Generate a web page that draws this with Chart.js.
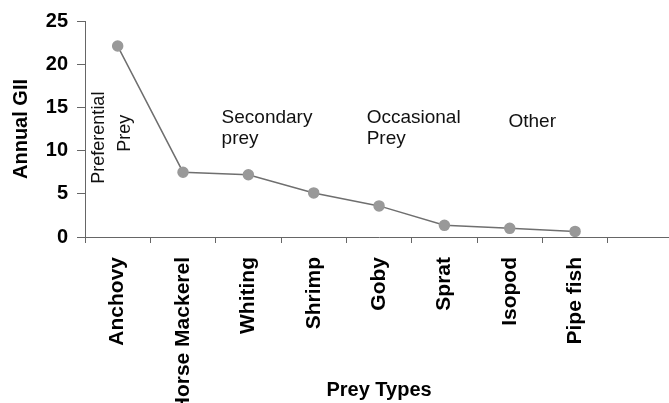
<!DOCTYPE html>
<html>
<head>
<meta charset="utf-8">
<script src="https://cdn.jsdelivr.net/npm/chart.js@4/dist/chart.umd.min.js"></script>
<style>
    body { margin: 0; background: #fff; overflow: hidden; }
    canvas { display: block; }
</style>
</head>
<body>
<canvas id="preyChart" width="680" height="403"></canvas>
<script>
// Prey types (last slot is the empty category at the end of the axis)
const preyTypes = ['Anchovy', 'Horse Mackerel', 'Whiting', 'Shrimp', 'Goby', 'Sprat', 'Isopod', 'Pipe fish', ''];
const annualGII = [22.1, 7.5, 7.2, 5.1, 3.6, 1.35, 1.0, 0.65, null];
const yTicks = [0, 5, 10, 15, 20, 25];

const FONT = "'Liberation Sans', Arial, sans-serif";
const AXIS_COLOR = '#666666';

// Group labels, anchored to category index / GII value
const notes = [
    { lines: ['Preferential'], x: -0.28, y: 11.5, rotate: true },
    { lines: ['Prey'], x: 0.11, y: 12.0, rotate: true },
    { lines: ['Secondary', 'prey'], x: 1.59, y: 13.2 },
    { lines: ['Occasional', 'Prey'], x: 3.81, y: 13.2 },
    { lines: ['Other'], x: 5.98, y: 12.75 }
];

const notesPlugin = {
    id: 'groupNotes',
    afterDatasetsDraw(chart) {
        const ctx = chart.ctx;
        const xs = chart.scales.x;
        const ys = chart.scales.y;
        const step = xs.getPixelForValue(1) - xs.getPixelForValue(0);
        ctx.save();
        ctx.fillStyle = '#111';
        ctx.font = '19px ' + FONT;
        notes.forEach(n => {
            const px = xs.getPixelForValue(0) + n.x * step;
            const py = ys.getPixelForValue(n.y);
            if (n.rotate) {
                ctx.save();
                ctx.translate(px, py);
                ctx.rotate(-Math.PI / 2);
                ctx.textAlign = 'center';
                ctx.textBaseline = 'middle';
                ctx.font = '18px ' + FONT;
                ctx.fillText(n.lines[0], 0, 0);
                ctx.restore();
            } else {
                ctx.textAlign = 'left';
                ctx.textBaseline = 'alphabetic';
                n.lines.forEach((line, i) => ctx.fillText(line, px, py + i * 21));
            }
        });
        ctx.restore();
    }
};

const ctx = document.getElementById('preyChart').getContext('2d');
new Chart(ctx, {
    type: 'line',
    data: {
        labels: preyTypes,
        datasets: [{
            data: annualGII,
            borderColor: '#6f6f6f',
            borderWidth: 1.5,
            backgroundColor: '#999999',
            pointBackgroundColor: '#999999',
            pointBorderColor: '#999999',
            pointRadius: 5,
            tension: 0,
            fill: false
        }]
    },
    options: {
        responsive: false,
        animation: false,
        devicePixelRatio: 1,
        layout: { padding: { top: 8, right: 2, left: 0, bottom: 0 } },
        plugins: {
            legend: { display: false },
            tooltip: { enabled: false }
        },
        scales: {
            x: {
                offset: true,
                grid: {
                    offset: true,
                    drawOnChartArea: false,
                    drawTicks: true,
                    tickLength: 6,
                    color: AXIS_COLOR
                },
                border: { display: true, color: AXIS_COLOR, width: 1 },
                ticks: {
                    autoSkip: false,
                    maxRotation: 90,
                    minRotation: 90,
                    padding: 14,
                    color: '#000',
                    font: { family: FONT, size: 21, weight: 'bold' }
                },
                title: {
                    display: true,
                    text: 'Prey Types',
                    color: '#000',
                    font: { family: FONT, size: 20, weight: 'bold' },
                    padding: { top: 0, bottom: 1 }
                },
                afterFit(scale) { scale.height = 166; }
            },
            y: {
                min: 0,
                max: 25,
                afterBuildTicks(scale) { scale.ticks = yTicks.map(v => ({ value: v })); },
                grid: {
                    drawOnChartArea: false,
                    drawTicks: true,
                    tickLength: 8,
                    color: AXIS_COLOR
                },
                border: { display: true, color: AXIS_COLOR, width: 1 },
                ticks: {
                    padding: 9,
                    color: '#000',
                    font: { family: FONT, size: 20, weight: 'bold' }
                },
                title: {
                    display: true,
                    text: 'Annual GII',
                    color: '#000',
                    font: { family: FONT, size: 20, weight: 'bold' },
                    padding: { top: 9, bottom: 0 }
                },
                afterFit(scale) { scale.width = 85; }
            }
        }
    },
    plugins: [notesPlugin]
});
</script>
</body>
</html>
